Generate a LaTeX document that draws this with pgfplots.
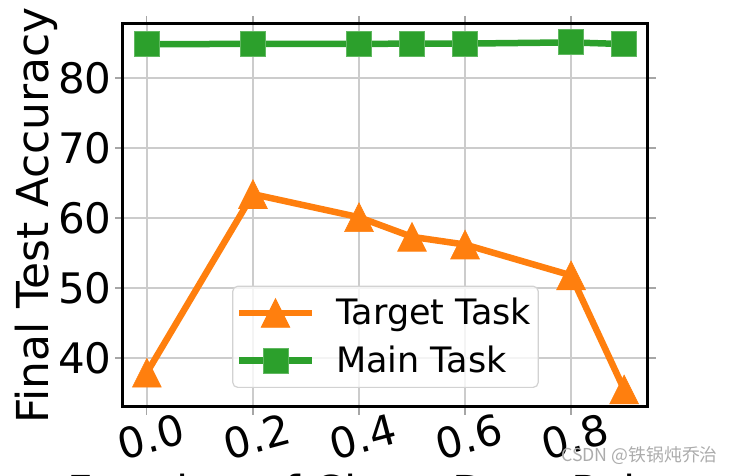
\documentclass[border=0pt]{standalone}
\usepackage{pgfplots}
\pgfplotsset{compat=1.18}
\usepackage{fontspec}
\setmainfont{DejaVu Sans}
\newfontfamily\cjk{Noto Sans CJK SC}
\definecolor{tabor}{HTML}{FF7F0E}
\definecolor{tabgr}{HTML}{2CA02C}
\pgfdeclareplotmark{mtri}{%
  \pgfpathmoveto{\pgfqpoint{0pt}{\pgfplotmarksize}}%
  \pgfpathlineto{\pgfqpoint{-\pgfplotmarksize}{-\pgfplotmarksize}}%
  \pgfpathlineto{\pgfqpoint{\pgfplotmarksize}{-\pgfplotmarksize}}%
  \pgfpathclose\pgfusepathqfillstroke}

\pgfplotstableread{
x y
0.0 37.9
0.2 63.4
0.4 60.1
0.5 57.3
0.6 56.2
0.8 51.8
0.9 35.5
}\target
\pgfplotstableread{
x y
0.0 84.83
0.2 84.85
0.4 84.85
0.5 84.9
0.6 84.9
0.8 85.07
0.9 84.83
}\main

\begin{document}
\begin{tikzpicture}
\path[use as bounding box] (-61.5pt,-34.5pt) rectangle (305pt,203.5pt);
\begin{axis}[
  at={(0pt,0pt)}, anchor=south west,
  scale only axis, width=262.5pt, height=191.5pt,
  xmin=-0.045, xmax=0.945, ymin=33, ymax=87.7,
  xtick={0,0.2,0.4,0.6,0.8}, xticklabels={0.0,0.2,0.4,0.6,0.8},
  ytick={40,50,60,70,80}, yticklabels={40,50,60,70,80},
  tick align=outside, major tick length=4pt,
  tick style={gray!70, line width=0.6pt},
  grid=major, grid style={gray!40, line width=0.7pt},
  axis line style={black, line width=1.5pt},
  tick label style={font=\fontsize{21}{25}\selectfont, inner sep=0pt},
  xticklabel style={yshift=-3pt, rotate=15, anchor=north},
  yticklabel style={anchor=east, xshift=-1.5pt},
  xlabel={Fraction of Clean Data Points},
  xlabel style={at={(rel axis cs:0.5,0)}, anchor=north, yshift=-33.5pt, inner sep=0pt, font=\fontsize{22}{26}\selectfont},
  ylabel={Final Test Accuracy},
  ylabel style={at={(axis description cs:-0.2057,0.5)}, anchor=north, inner sep=0pt, font=\fontsize{22}{26}\selectfont},
  legend style={at={(0.5,0.0496)}, anchor=south, draw=gray!35, line width=0.6pt,
    rounded corners=2.5pt, fill=white, fill opacity=0.8, text opacity=1, draw opacity=1,
    font=\fontsize{17.5}{21}\selectfont, inner xsep=1.5pt, inner ysep=4pt, row sep=5pt,
    /tikz/every odd column/.append style={column sep=8.5pt}},
  legend cell align=left,
  legend image code/.code={\draw[opacity=1, mark repeat=2, mark phase=2] plot coordinates {(0pt,0pt) (18.25pt,0pt) (36.5pt,0pt)};},
]
\addplot[tabor, line width=3.25pt, mark=mtri, mark size=7.2pt, mark options={solid, line width=0.3pt, fill=tabor, draw=tabor}] table[x=x,y=y] {\target};
\addlegendentry{Target Task}
\addplot[tabgr, line width=3.25pt, mark=square*, mark size=6.25pt, mark options={solid, line width=0.5pt, fill=tabgr, draw=tabgr!75!white}] table[x=x,y=y] {\main};
\addlegendentry{Main Task}
\end{axis}
\node[text=gray!65, font=\cjk\fontsize{8.9}{10}\selectfont, inner sep=0pt, anchor=east] at (297.5pt,-24.5pt) {CSDN @铁锅炖乔治};
\end{tikzpicture}
\end{document}
